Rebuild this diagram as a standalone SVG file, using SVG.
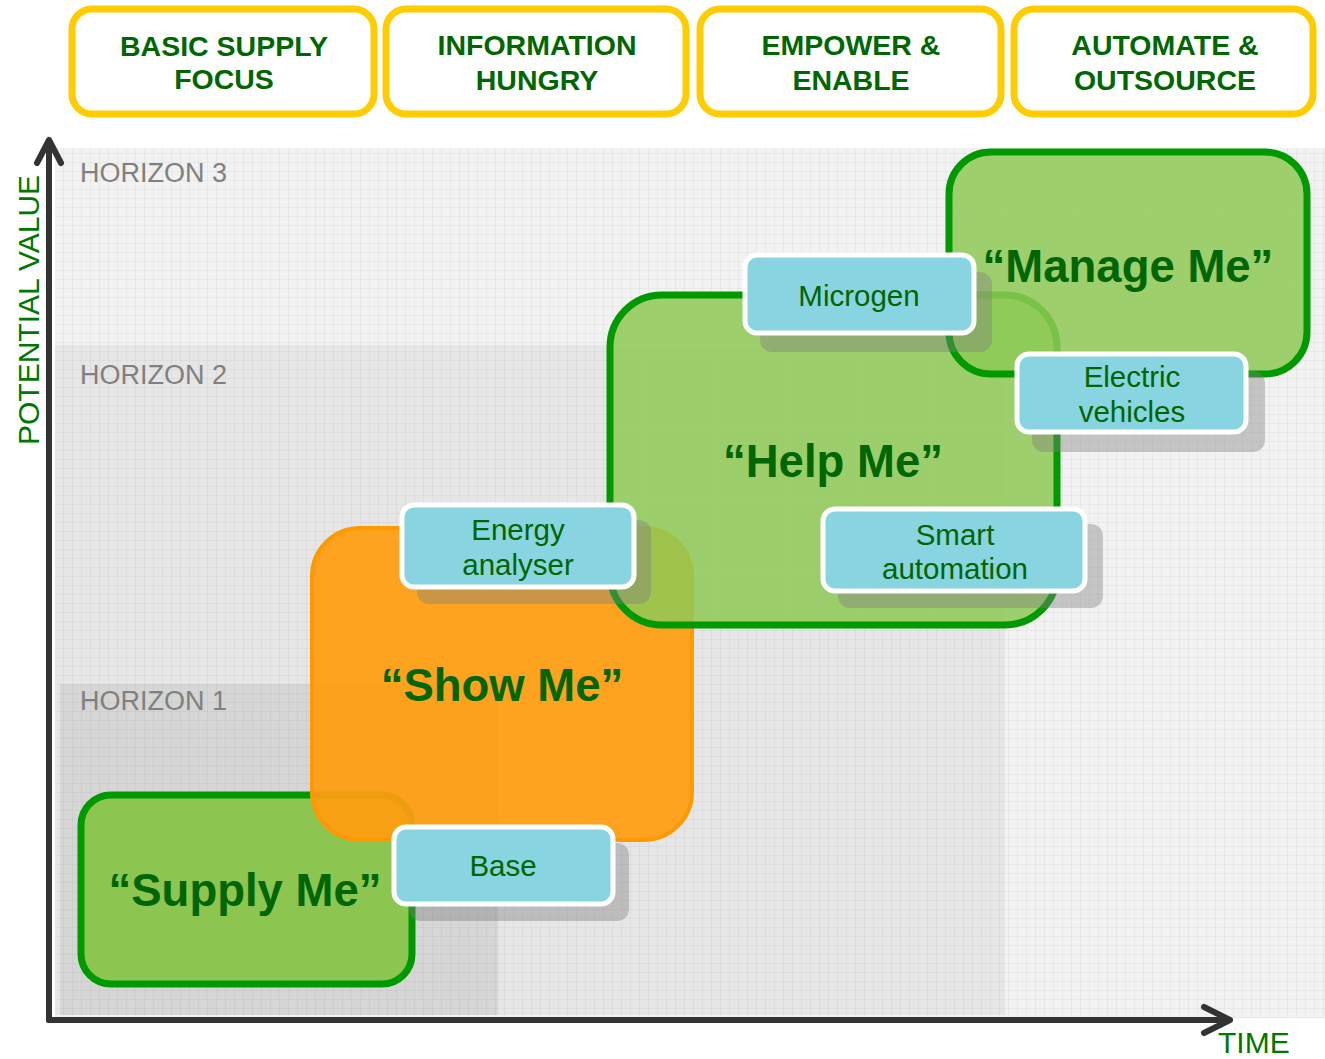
<svg xmlns="http://www.w3.org/2000/svg" width="1325" height="1059" viewBox="0 0 1325 1059">
<style>
.hdr{fill:#ffffff;stroke:#ffcc00;stroke-width:7}
.hdrt{font-family:"Liberation Sans",Arial,sans-serif;font-weight:bold;font-size:28.5px;fill:#006600;text-anchor:middle}
.hz{font-family:"Liberation Sans",Arial,sans-serif;font-size:27px;fill:#808080}
.big{font-family:"Liberation Sans",Arial,sans-serif;font-weight:bold;font-size:45.5px;fill:#006600;text-anchor:middle}
.lbl{font-family:"Liberation Sans",Arial,sans-serif;font-size:29.5px;fill:#006600;text-anchor:middle}
.axt{font-family:"Liberation Sans",Arial,sans-serif;font-size:30px;fill:#007700}
.gbox{stroke:#009900;stroke-width:7}
.blue{fill:#89d4e1;stroke:#ffffff;stroke-width:5}
.shadow{fill:#808080;fill-opacity:0.4}
.axis{fill:none;stroke:#333333;stroke-width:6;stroke-linecap:round;stroke-linejoin:round}
</style>
<defs>
<pattern id="grid" width="9" height="9" patternUnits="userSpaceOnUse">
<path d="M0,0.5 H9 M0.5,0 V9" stroke="#000000" stroke-opacity="0.035" stroke-width="1" fill="none"/>
</pattern>
</defs>
<rect x="0" y="0" width="1325" height="1059" fill="#ffffff"/>

<g id="background">
<rect x="55" y="148" width="1270" height="870" fill="#f2f2f2"/>
<rect x="55" y="345" width="950" height="670" fill="#e6e6e6"/>
<rect x="60" y="684" width="438" height="331" fill="#d6d6d6"/>
<rect x="55" y="148" width="1270" height="870" fill="url(#grid)"/>
</g>

<g id="headers">
<g id="h1"><rect class="hdr" x="72" y="9" width="302" height="105" rx="20"/><text class="hdrt" x="224" y="56">BASIC SUPPLY</text><text class="hdrt" x="224" y="89">FOCUS</text></g>
<g id="h2"><rect class="hdr" x="386" y="9" width="300" height="105" rx="20"/><text class="hdrt" x="537" y="55">INFORMATION</text><text class="hdrt" x="537" y="90">HUNGRY</text></g>
<g id="h3"><rect class="hdr" x="700" y="9" width="301" height="105" rx="20"/><text class="hdrt" x="851" y="55">EMPOWER &amp;</text><text class="hdrt" x="851" y="90">ENABLE</text></g>
<g id="h4"><rect class="hdr" x="1014" y="9" width="299" height="105" rx="20"/><text class="hdrt" x="1165" y="55">AUTOMATE &amp;</text><text class="hdrt" x="1165" y="90">OUTSOURCE</text></g>
</g>

<g id="horizons">
<text class="hz" x="80" y="182">HORIZON 3</text>
<text class="hz" x="80" y="384">HORIZON 2</text>
<text class="hz" x="80" y="710">HORIZON 1</text>
</g>

<g id="axes">
<path class="axis" d="M49,1020 V141 M37,163 L49,140 L61,163"/>
<path class="axis" d="M49,1020 H1230 M1204,1007 L1230,1020 L1204,1033"/>
<text class="axt" transform="translate(39,445) rotate(-90)">POTENTIAL VALUE</text>
<text class="axt" x="1218" y="1053">TIME</text>
</g>

<g id="supply-me">
<rect class="gbox" x="81" y="795" width="331" height="189" rx="30" fill="#8cc550"/>
<text class="big" x="245" y="906">“Supply Me”</text>
</g>

<g id="show-me">
<rect x="312" y="528" width="380" height="312" rx="48" fill="#ff9d10" fill-opacity="0.93" stroke="#ff9900" stroke-width="4"/>
<text class="big" x="502" y="701">“Show Me”</text>
</g>

<g id="help-me">
<rect class="gbox" x="610" y="295" width="447" height="330" rx="52" fill="#8ec955" fill-opacity="0.85"/>
<text class="big" x="833" y="477">“Help Me”</text>
</g>

<g id="manage-me">
<rect class="gbox" x="949" y="152" width="358" height="222" rx="42" fill="#8ec955" fill-opacity="0.85"/>
<text class="big" x="1128" y="282">“Manage Me”</text>
</g>

<g id="energy-analyser">
<rect class="shadow" x="417" y="520" width="234" height="84" rx="12"/>
<rect class="blue" x="402" y="505" width="232" height="82" rx="12"/>
<text class="lbl" x="518" y="540">Energy</text>
<text class="lbl" x="518" y="575">analyser</text>
</g>

<g id="base">
<rect class="shadow" x="409" y="843" width="220" height="78" rx="12"/>
<rect class="blue" x="394" y="827" width="219" height="77" rx="12"/>
<text class="lbl" x="503" y="876">Base</text>
</g>

<g id="microgen">
<rect class="shadow" x="760" y="272" width="232" height="80" rx="12"/>
<rect class="blue" x="745" y="255" width="229" height="78" rx="12"/>
<text class="lbl" x="859" y="306">Microgen</text>
</g>

<g id="electric-vehicles">
<rect class="shadow" x="1032" y="371" width="233" height="81" rx="12"/>
<rect class="blue" x="1017" y="354" width="229" height="78" rx="12"/>
<text class="lbl" x="1132" y="387">Electric</text>
<text class="lbl" x="1132" y="422">vehicles</text>
</g>

<g id="smart-automation">
<rect class="shadow" x="838" y="524" width="265" height="84" rx="12"/>
<rect class="blue" x="823" y="509" width="262" height="82" rx="12"/>
<text class="lbl" x="955" y="545">Smart</text>
<text class="lbl" x="955" y="579">automation</text>
</g>
</svg>
